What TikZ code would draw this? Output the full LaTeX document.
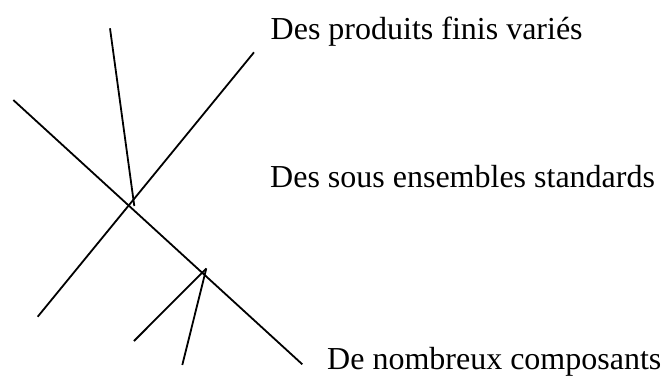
\documentclass[tikz,border=0pt]{standalone}
\usepackage{fontspec}
\setmainfont{Liberation Serif}
\begin{document}
\begin{tikzpicture}[x=1pt,y=-1pt,
  stroke/.style={line width=1.8pt,line cap=butt},
  label/.style={anchor=base west,inner sep=0pt,font=\fontsize{32}{38}\selectfont}]
\useasboundingbox (0,0) rectangle (663,376);
% end points of the strokes
\coordinate (a1) at (13.3,100);
\coordinate (a2) at (302.3,364.3);
\coordinate (b1) at (37.7,316.7);
\coordinate (b2) at (254,52.3);
\coordinate (c1) at (110,28.3);
\coordinate (c2) at (134.3,206);
\coordinate (d1) at (134,341);
\coordinate (d2) at (206.3,268.5);
\coordinate (e1) at (182.3,365);
\coordinate (e2) at (206.3,268.5);
% strokes
\draw[stroke] (a1) -- (a2);
\draw[stroke] (b1) -- (b2);
\draw[stroke] (c1) -- (c2);
\draw[stroke] (d1) -- (d2);
\draw[stroke] (e1) -- (e2);
% labels
\node[label] (t1) at (270.5,39.3) {Des produits finis variés};
\node[label] (t2) at (270,187.7) {Des sous ensembles standards};
\node[label] (t3) at (327,369.3) {De nombreux composants};
\end{tikzpicture}
\end{document}
